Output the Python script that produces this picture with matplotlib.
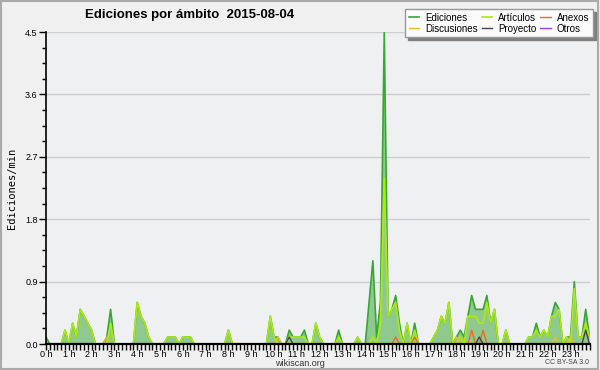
import numpy as np
import matplotlib
matplotlib.use("Agg")
import matplotlib.pyplot as plt
from matplotlib.ticker import MultipleLocator, FixedLocator

# --- Data: edits per minute, one value per 10-minute slot (2 hours per row) ---
ediciones = [
    0.1, 0, 0, 0, 0, 0.2, 0, 0.3, 0.1, 0.5, 0.4, 0.3,
    0.2, 0, 0, 0, 0.1, 0.5, 0, 0, 0, 0, 0, 0,
    0.6, 0.4, 0.3, 0.1, 0, 0, 0, 0, 0.1, 0.1, 0.1, 0,
    0.1, 0.1, 0.1, 0, 0, 0, 0, 0, 0, 0, 0, 0,
    0.2, 0, 0, 0, 0, 0, 0, 0, 0, 0, 0, 0.4,
    0.1, 0.1, 0, 0, 0.2, 0.1, 0.1, 0.1, 0.2, 0, 0, 0.3,
    0.1, 0, 0, 0, 0, 0.2, 0, 0, 0, 0, 0.1, 0,
    0, 0.6, 1.2, 0.1, 0.6, 4.5, 0.4, 0.5, 0.7, 0.3, 0, 0.3,
    0, 0.3, 0, 0, 0, 0, 0.1, 0.2, 0.4, 0.3, 0.6, 0,
    0.1, 0.2, 0.1, 0.4, 0.7, 0.5, 0.5, 0.5, 0.7, 0.3, 0.5, 0,
    0, 0.2, 0, 0, 0, 0, 0, 0.1, 0.1, 0.3, 0.1, 0.2,
    0.1, 0.4, 0.6, 0.5, 0, 0.1, 0.1, 0.9, 0.1, 0.1, 0.5, 0.1,
]
articulos = [
    0, 0, 0, 0, 0, 0.2, 0, 0.3, 0.1, 0.5, 0.4, 0.3,
    0.2, 0, 0, 0, 0, 0.3, 0, 0, 0, 0, 0, 0,
    0.6, 0.4, 0.3, 0.1, 0, 0, 0, 0, 0.1, 0.1, 0.1, 0,
    0.1, 0.1, 0.1, 0, 0, 0, 0, 0, 0, 0, 0, 0,
    0.2, 0, 0, 0, 0, 0, 0, 0, 0, 0, 0, 0.4,
    0.1, 0, 0, 0, 0.1, 0.1, 0.1, 0.1, 0.1, 0, 0, 0.3,
    0.1, 0, 0, 0, 0, 0.1, 0, 0, 0, 0, 0.1, 0,
    0, 0, 0.1, 0, 0.3, 2.4, 0.4, 0.5, 0.6, 0.2, 0, 0.3,
    0, 0.2, 0, 0, 0, 0, 0.1, 0.2, 0.4, 0.3, 0.6, 0,
    0, 0.1, 0, 0.4, 0.4, 0.4, 0.3, 0.3, 0.6, 0.3, 0.5, 0,
    0, 0.2, 0, 0, 0, 0, 0, 0.1, 0.1, 0.2, 0.1, 0.2,
    0.1, 0.4, 0.4, 0.5, 0, 0.1, 0, 0.8, 0.1, 0.1, 0.3, 0.1,
]
# sparse series: (slot, value)
discusiones_pts = [(16, 0.1), (61, 0.1), (108, 0.1), (134, 0.1), (138, 0.1)]
anexos_pts = [(92, 0.1), (97, 0.1), (112, 0.2), (115, 0.2)]
proyecto_pts = [(64, 0.1), (114, 0.1), (142, 0.2)]
otros_pts = []

hour_labels = [f"{h} h" for h in range(24)]
y_ticks = [0.0, 0.9, 1.8, 2.7, 3.6, 4.5]


def sparse_to_series(points, n):
    s = np.zeros(n)
    for i, v in points:
        s[i] = v
    return s


n = len(ediciones)
x = np.arange(n) / 6.0
ed = np.array(ediciones, dtype=float)
art = np.array(articulos, dtype=float)
disc = sparse_to_series(discusiones_pts, n)
anex = sparse_to_series(anexos_pts, n)
proy = sparse_to_series(proyecto_pts, n)
otros = sparse_to_series(otros_pts, n)

plt.rcParams["font.family"] = ["Liberation Sans", "DejaVu Sans"]

BG = "#f0f0f0"
fig = plt.figure(figsize=(6, 3.7), dpi=100, facecolor=BG)
ax = fig.add_axes([46 / 600, 26 / 370, 543.5 / 600, 312 / 370])
ax.set_facecolor("#eef0f2")

# filled area under total edits
ax.fill(np.concatenate([x, x[::-1]]), np.concatenate([ed, np.zeros(n)]),
        facecolor="#90c990", edgecolor="none", zorder=2)
l_ed, = ax.plot(x, ed, color="#36a832", lw=1.2, zorder=3, label="Ediciones")
l_art, = ax.plot(x, art, color="#aeea0c", lw=1.2, zorder=4, label="Artículos")
l_disc, = ax.plot(x, disc, color="#e8c020", lw=1.0, zorder=5, label="Discusiones")
l_anex, = ax.plot(x, anex, color="#ee6a22", lw=1.0, zorder=5, label="Anexos")
l_proy, = ax.plot(x, proy, color="#444444", lw=1.0, zorder=5, label="Proyecto")
l_otros, = ax.plot(x, otros, color="#9a3cff", lw=1.0, zorder=2.5, label="Otros")

ax.set_xlim(0, (n - 1) / 6.0)
ax.set_ylim(0, 4.5)

ax.set_yticks(y_ticks)
ax.set_yticklabels([f"{v:.1f}" for v in y_ticks])
ax.yaxis.set_minor_locator(MultipleLocator(0.225))
ax.grid(axis="y", which="major", color="#cfcfcf", lw=1, zorder=1)
ax.set_axisbelow(True)

ax.xaxis.set_major_locator(FixedLocator(range(24)))
ax.set_xticklabels(hour_labels)
ax.xaxis.set_minor_locator(MultipleLocator(1 / 6))
ax.tick_params(axis="x", which="both", direction="out", length=4, width=1,
               labelsize=6.5, pad=0.5)
ax.tick_params(axis="y", which="major", direction="out", length=5, width=1,
               labelsize=6.5, pad=1)
ax.tick_params(axis="y", which="minor", direction="out", length=3, width=1)

for side in ("top", "right"):
    ax.spines[side].set_visible(False)
ax.spines["left"].set_linewidth(1.2)
ax.spines["bottom"].set_linewidth(1.6)
ax.spines["left"].set_zorder(10)
ax.spines["bottom"].set_zorder(10)

ax.set_ylabel("Ediciones/min", fontsize=7.5, family="DejaVu Sans Mono", labelpad=6)

fig.text(85 / 600, 1 - 15 / 370, "Ediciones por ámbito  2015-08-04",
         fontsize=9.5, fontweight="bold", ha="left", va="center")
fig.text(300 / 600, 1 - 364 / 370, "wikiscan.org", fontsize=6.5, ha="center",
         va="center", color="#333333")
fig.text(589 / 600, 1 - 363 / 370, "CC BY-SA 3.0", fontsize=5, ha="right",
         va="center", color="#444444")

handles = [l_ed, l_disc, l_art, l_proy, l_anex, l_otros]
leg = fig.legend(handles=handles, labels=[h.get_label() for h in handles],
                 ncol=3, loc="upper right", bbox_to_anchor=(0.988, 0.975),
                 fontsize=7, frameon=True, fancybox=False,
                 shadow={"color": "#808080", "alpha": 1.0},
                 handlelength=1.1, handletextpad=0.6, columnspacing=0.4,
                 labelspacing=0.1, borderpad=0.35, borderaxespad=0)
leg.get_frame().set_edgecolor("#999999")
leg.get_frame().set_facecolor("#fbfbfb")
leg.get_frame().set_linewidth(1)

# outer border
fig.patches.append(plt.Rectangle((0.002, 0.004), 0.995, 0.993, transform=fig.transFigure,
                                 fill=False, edgecolor="#aaaaaa", lw=1.5))

fig.savefig("out.png", dpi=100, facecolor=BG)
